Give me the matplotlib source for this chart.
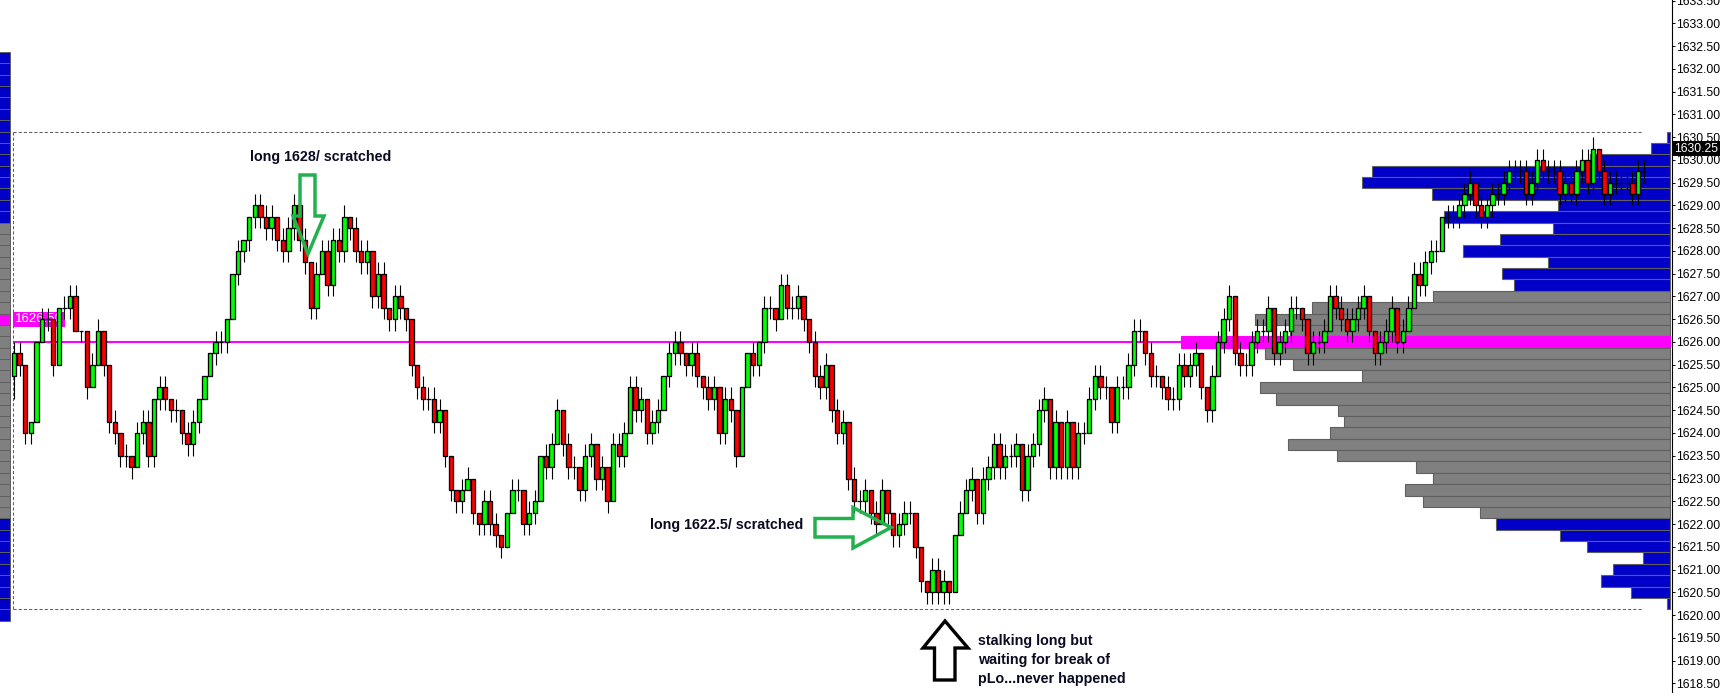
import matplotlib.pyplot as plt
from matplotlib.patches import Polygon
import numpy as np

# ---- 1-minute bars (open of each bar = close of the bar before) ----
first_open = 1625.25
closes = [
    1625.75, 1625.5, 1624.0, 1624.25, 1626.0, 1626.5, 1626.5, 1625.5, 1626.75, 1626.75,
    1627.0, 1626.25, 1626.25, 1625.0, 1625.5, 1626.25, 1625.5, 1624.25, 1624.0, 1623.5,
    1623.5, 1623.25, 1624.0, 1624.25, 1623.5, 1624.75, 1625.0, 1624.75, 1624.5, 1624.5,
    1624.0, 1623.75, 1624.25, 1624.75, 1625.25, 1625.75, 1626.0, 1626.0, 1626.5, 1627.5,
    1628.0, 1628.25, 1628.75, 1629.0, 1628.75, 1628.5, 1628.75, 1628.25, 1628.0, 1628.5,
    1629.0, 1628.25, 1627.75, 1626.75, 1627.5, 1628.0, 1627.25, 1628.25, 1628.0, 1628.75,
    1628.5, 1628.0, 1627.75, 1628.0, 1627.0, 1627.5, 1626.75, 1626.5, 1627.0, 1626.75,
    1626.5, 1625.5, 1625.0, 1624.75, 1624.75, 1624.25, 1624.5, 1623.5, 1622.75, 1622.5,
    1622.75, 1623.0, 1622.25, 1622.0, 1622.5, 1622.0, 1621.75, 1621.5, 1622.25, 1622.75,
    1622.75, 1622.0, 1622.25, 1622.5, 1623.5, 1623.25, 1623.75, 1624.5, 1623.75, 1623.25,
    1623.25, 1622.75, 1623.5, 1623.75, 1623.0, 1623.25, 1622.5, 1623.75, 1623.5, 1624.0,
    1625.0, 1624.5, 1624.75, 1624.0, 1624.25, 1624.5, 1625.25, 1625.75, 1626.0, 1625.75,
    1625.5, 1625.75, 1625.25, 1625.0, 1624.75, 1625.0, 1624.0, 1624.75, 1624.5, 1623.5,
    1625.0, 1625.75, 1625.5, 1626.0, 1626.75, 1626.75, 1626.5, 1627.25, 1626.75, 1626.75,
    1627.0, 1626.5, 1626.0, 1625.25, 1625.0, 1625.5, 1624.5, 1624.0, 1624.25, 1623.0,
    1622.5, 1622.5, 1622.75, 1622.25, 1622.0, 1622.75, 1622.25, 1621.75, 1622.0, 1622.25,
    1622.25, 1621.5, 1620.75, 1620.5, 1621.0, 1620.5, 1620.75, 1620.5, 1621.75, 1622.25,
    1622.75, 1623.0, 1622.25, 1623.0, 1623.25, 1623.75, 1623.25, 1623.5, 1623.5, 1623.75,
    1622.75, 1623.5, 1623.75, 1624.5, 1624.75, 1623.25, 1624.25, 1623.25, 1624.25, 1623.25,
    1624.0, 1624.0, 1624.75, 1625.25, 1625.0, 1625.0, 1624.25, 1625.0, 1625.0, 1625.5,
    1626.25, 1626.25, 1625.75, 1625.25, 1625.25, 1625.0, 1624.75, 1624.75, 1625.5, 1625.25,
    1625.5, 1625.75, 1625.0, 1624.5, 1625.25, 1626.0, 1626.5, 1627.0, 1625.75, 1625.5,
    1625.5, 1626.0, 1626.25, 1626.25, 1626.75, 1625.75, 1626.0, 1626.25, 1626.75, 1626.75,
    1626.5, 1625.75, 1626.0, 1626.0, 1626.25, 1627.0, 1626.75, 1626.5, 1626.25, 1626.5,
    1626.75, 1627.0, 1626.25, 1625.75, 1626.0, 1626.25, 1626.75, 1626.0, 1626.25, 1626.75,
    1627.5, 1627.25, 1627.75, 1628.0, 1628.0, 1628.75, 1628.75, 1628.75, 1629.0, 1629.25,
    1629.5, 1629.0, 1628.75, 1629.0, 1629.25, 1629.25, 1629.5, 1629.75, 1629.75, 1629.75,
    1629.25, 1629.5, 1630.0, 1629.75, 1629.75, 1629.75, 1629.25, 1629.5, 1629.25, 1629.75,
    1630.0, 1629.5, 1630.25, 1629.75, 1629.25, 1629.5, 1629.5, 1629.5, 1629.5, 1629.25,
    1629.75, 1629.75,
]
# wick length above / below the body, in ticks
wick_up = [
    1, 1, 0, 0, 0, 1, 1, 0, 0, 1,  1, 1, 0, 0, 1, 1, 0, 0, 1, 0,
    1, 0, 1, 1, 1, 0, 1, 1, 0, 1,  0, 1, 1, 0, 0, 0, 1, 1, 0, 0,
    1, 0, 0, 1, 1, 1, 1, 0, 1, 1,  1, 0, 1, 0, 1, 1, 1, 1, 1, 1,
    0, 1, 1, 1, 0, 1, 1, 0, 1, 1,  0, 0, 0, 1, 1, 1, 1, 0, 0, 0,
    1, 1, 0, 0, 1, 1, 1, 0, 0, 1,  1, 0, 1, 1, 0, 1, 1, 1, 0, 1,
    1, 0, 1, 1, 0, 1, 0, 1, 1, 1,  1, 1, 1, 0, 1, 1, 0, 1, 1, 1,
    0, 1, 1, 0, 1, 1, 0, 1, 1, 0,  0, 0, 1, 0, 1, 1, 0, 1, 1, 1,
    1, 0, 0, 1, 1, 1, 0, 1, 1, 0,  1, 1, 1, 0, 1, 1, 0, 0, 1, 1,
    1, 0, 0, 0, 1, 1, 1, 0, 0, 1,  1, 1, 0, 1, 1, 1, 1, 1, 1, 1,
    0, 1, 1, 1, 1, 0, 1, 0, 1, 0,  1, 1, 1, 1, 1, 1, 0, 1, 1, 1,
    1, 1, 0, 1, 1, 0, 1, 1, 1, 1,  1, 1, 0, 0, 1, 1, 1, 1, 0, 1,
    1, 1, 1, 1, 1, 0, 1, 1, 1, 1,  0, 0, 1, 1, 1, 1, 1, 1, 1, 1,
    1, 1, 0, 0, 1, 1, 1, 0, 1, 1,  1, 1, 1, 1, 1, 0, 1, 1, 1, 1,
    1, 0, 1, 1, 1, 1, 1, 1, 1, 1,  1, 1, 1, 1, 1, 1, 1, 1, 1, 1,
    1, 1, 1, 0, 1, 1, 1, 1, 1, 1,  1, 1,
]
wick_dn = [
    2, 1, 1, 1, 0, 0, 1, 1, 0, 1,  1, 0, 1, 1, 0, 0, 1, 1, 1, 1,
    1, 1, 0, 1, 1, 1, 1, 1, 1, 1,  1, 1, 1, 1, 0, 0, 1, 1, 1, 0,
    1, 1, 1, 1, 1, 1, 1, 1, 1, 1,  1, 1, 1, 1, 1, 0, 1, 1, 1, 1,
    1, 1, 1, 1, 1, 1, 1, 1, 1, 1,  1, 1, 1, 1, 1, 1, 1, 1, 1, 1,
    1, 0, 1, 1, 1, 1, 1, 1, 0, 0,  1, 1, 1, 1, 0, 1, 1, 0, 1, 1,
    1, 1, 1, 1, 1, 1, 1, 0, 1, 1,  0, 1, 1, 1, 1, 1, 0, 1, 1, 1,
    1, 1, 1, 1, 1, 1, 1, 1, 1, 1,  0, 0, 1, 1, 1, 1, 1, 0, 1, 1,
    1, 1, 1, 1, 1, 1, 1, 1, 1, 1,  1, 1, 1, 1, 1, 0, 1, 1, 1, 1,
    1, 1, 1, 1, 1, 1, 1, 1, 0, 0,  0, 1, 1, 1, 1, 1, 1, 1, 1, 1,
    1, 1, 1, 1, 1, 1, 1, 1, 1, 1,  1, 1, 0, 1, 1, 1, 1, 1, 1, 1,
    1, 1, 1, 1, 1, 1, 1, 1, 1, 1,  1, 1, 1, 1, 1, 0, 1, 1, 1, 1,
    1, 1, 1, 1, 1, 1, 1, 1, 1, 1,  1, 1, 1, 1, 1, 0, 1, 1, 1, 1,
    1, 1, 1, 1, 1, 1, 1, 1, 1, 0,  0, 1, 1, 1, 1, 0, 1, 1, 1, 1,
    1, 1, 1, 1, 1, 1, 1, 1, 1, 1,  1, 1, 1, 1, 1, 1, 1, 1, 1, 1,
    1, 1, 1, 1, 1, 1, 1, 1, 1, 1,  1, 1,
]
tick = 0.25

# ---- today's volume profile (bar length, px-ish units) ----
prof_prices = [
    1630.50, 1630.25, 1630.00, 1629.75, 1629.50, 1629.25, 1629.00, 1628.75, 1628.50, 1628.25,
    1628.00, 1627.75, 1627.50, 1627.25, 1627.00, 1626.75, 1626.50, 1626.25, 1626.00, 1625.75,
    1625.50, 1625.25, 1625.00, 1624.75, 1624.50, 1624.25, 1624.00, 1623.75, 1623.50, 1623.25,
    1623.00, 1622.75, 1622.50, 1622.25, 1622.00, 1621.75, 1621.50, 1621.25, 1621.00, 1620.75,
    1620.50, 1620.25,
]
prof_vols = [
    3, 19, 80, 298, 308, 238, 112, 226, 117, 170,
    207, 122, 168, 156, 237, 358, 415, 380, 489, 405,
    377, 308, 410, 394, 332, 326, 340, 382, 333, 254,
    237, 265, 247, 190, 174, 110, 83, 27, 57, 69,
    39, 3,
]
va_low, va_high = 1622.25, 1627.00
poc = 1626.00
session_high, session_low = 1630.625, 1620.125

# previous session profile (only its last column is on screen)
prev_prices = [1632.25 - 0.25 * k for k in range(50)]
prev_va_low, prev_va_high = 1622.25, 1628.50
prev_poc = 1626.50

last_price = 1630.25

BLUE = '#0000c8'
GRAY = '#808080'
MAGENTA = '#ff00ff'
ARROW_GREEN = '#22b14c'
TXT = '#0a0a22'

W, H = 1721, 693
fig = plt.figure(figsize=(W / 100, H / 100), dpi=100)
fig.patch.set_facecolor('white')

# profile axis: x = bar length measured leftwards from the right edge
ax = fig.add_axes([0, 0, 1672 / W, 1])
ax.set_xlim(1670, -2)
ax.set_ylim(1618.286, 1633.516)

for s in ['top', 'left', 'bottom']:
    ax.spines[s].set_visible(False)
ax.spines['right'].set_color('black')
ax.spines['right'].set_linewidth(0.8)
ax.xaxis.set_visible(False)
ax.yaxis.tick_right()
ax.set_yticks(np.arange(1618.5, 1633.51, 0.5))
ax.set_yticklabels([f"{v:.2f}" for v in np.arange(1618.5, 1633.51, 0.5)],
                   fontsize=8.8, family='Liberation Sans')
ax.tick_params(axis='y', direction='out', length=2.4, width=0.7, pad=0.8, colors='black')

# previous-day column at the left edge
prev_cols = []
for p in prev_prices:
    if p < 1619.99:
        prev_cols.append('none')
    elif p == prev_poc:
        prev_cols.append(MAGENTA)
    elif prev_va_low <= p <= prev_va_high:
        prev_cols.append(GRAY)
    else:
        prev_cols.append(BLUE)
ax.barh(prev_prices, 60, left=1660.4, height=tick, color=prev_cols,
        edgecolor='#5f5f5f', linewidth=0.7, zorder=2)

# today's profile
cols, edges = [], []
for p in prof_prices:
    if p == poc:
        cols.append(MAGENTA)
        edges.append(MAGENTA)
    elif va_low <= p <= va_high:
        cols.append(GRAY)
        edges.append('#5f5f5f')
    else:
        cols.append(BLUE)
        edges.append('#5f5f5f')
ax.barh(prof_prices, prof_vols, left=0, height=tick, color=cols,
        edgecolor=edges, linewidth=0.8, zorder=2)

# POC line, session high/low box
ax.hlines(poc, 1657, 0, color=MAGENTA, linewidth=1.5, zorder=1)
ax.hlines([session_high, session_low], 1657, 28, color='#606060',
          linewidth=0.75, linestyle=(0, (3, 2)), zorder=1)
ax.vlines(1657, session_low, session_high, color='#606060',
          linewidth=0.75, linestyle=(0, (3, 2)), zorder=1)

# labels on the price scale
ax.text(1.0015, last_price, f"{last_price:.2f}", transform=ax.get_yaxis_transform(),
        fontsize=8.8, family='Liberation Sans', color='white', va='center', ha='left',
        bbox=dict(boxstyle='square,pad=0.12', fc='black', ec='none'), zorder=5,
        clip_on=False)
ax.text(15 / 1672, prev_poc, f"{prev_poc:.2f}", transform=ax.get_yaxis_transform(),
        fontsize=9.5, family='Liberation Sans', color='white', va='center', ha='left',
        bbox=dict(boxstyle='square,pad=0.12', fc=MAGENTA, ec='none'), zorder=3)

# candles
axc = ax.twiny()
axc.set_xlim(-2.5, 296.07)
axc.xaxis.set_visible(False)
for s in axc.spines.values():
    s.set_visible(False)

n = len(closes)
idx = np.arange(n)
c = np.array(closes)
o = np.array([first_open] + closes[:-1])
top = np.maximum(o, c)
bot = np.minimum(o, c)
highs = top + np.array(wick_up) * tick
lows = bot - np.array(wick_dn) * tick
fills = ['#00ff00' if cc > oo else ('#ff0000' if cc < oo else 'white') for oo, cc in zip(o, c)]

axc.vlines(idx, lows, highs, color='black', linewidth=0.8, zorder=3)
axc.bar(idx, top - bot, bottom=bot, width=0.8, color=fills, edgecolor='black',
        linewidth=0.95, zorder=4)

# annotations (pixel coordinates)
ov = fig.add_axes([0, 0, 1, 1])
ov.set_xlim(0, W)
ov.set_ylim(H, 0)
ov.axis('off')

down_arrow = [(300, 175), (315, 175), (315, 216), (324, 216), (308, 254), (293, 216), (300, 216)]
right_arrow = [(815, 518.5), (853, 518.5), (853, 507.5), (891, 527.5), (853, 548), (853, 537), (815, 537)]
up_arrow = [(945, 621), (968, 648), (955, 648), (955, 680), (934.5, 680), (934.5, 648), (923, 648)]
ov.add_patch(Polygon(down_arrow, closed=True, fill=False, edgecolor=ARROW_GREEN,
                     linewidth=2.5, joinstyle='miter'))
ov.add_patch(Polygon(right_arrow, closed=True, fill=False, edgecolor=ARROW_GREEN,
                     linewidth=2.5, joinstyle='miter'))
ov.add_patch(Polygon(up_arrow, closed=True, fill=False, edgecolor='black',
                     linewidth=2.4, joinstyle='miter'))

font = dict(fontsize=10.3, fontweight='bold', family='Liberation Sans', color=TXT,
            va='baseline', ha='left')
ov.text(250, 160.5, "long 1628/ scratched", **font)
ov.text(650, 529.5, "long 1622.5/ scratched", **font)
ov.text(978, 645, "stalking long but", **font)
ov.text(978, 664, "waiting for break of", **font)
ov.text(978, 683, "pLo...never happened", **font)

fig.savefig('out.png', dpi=100)
